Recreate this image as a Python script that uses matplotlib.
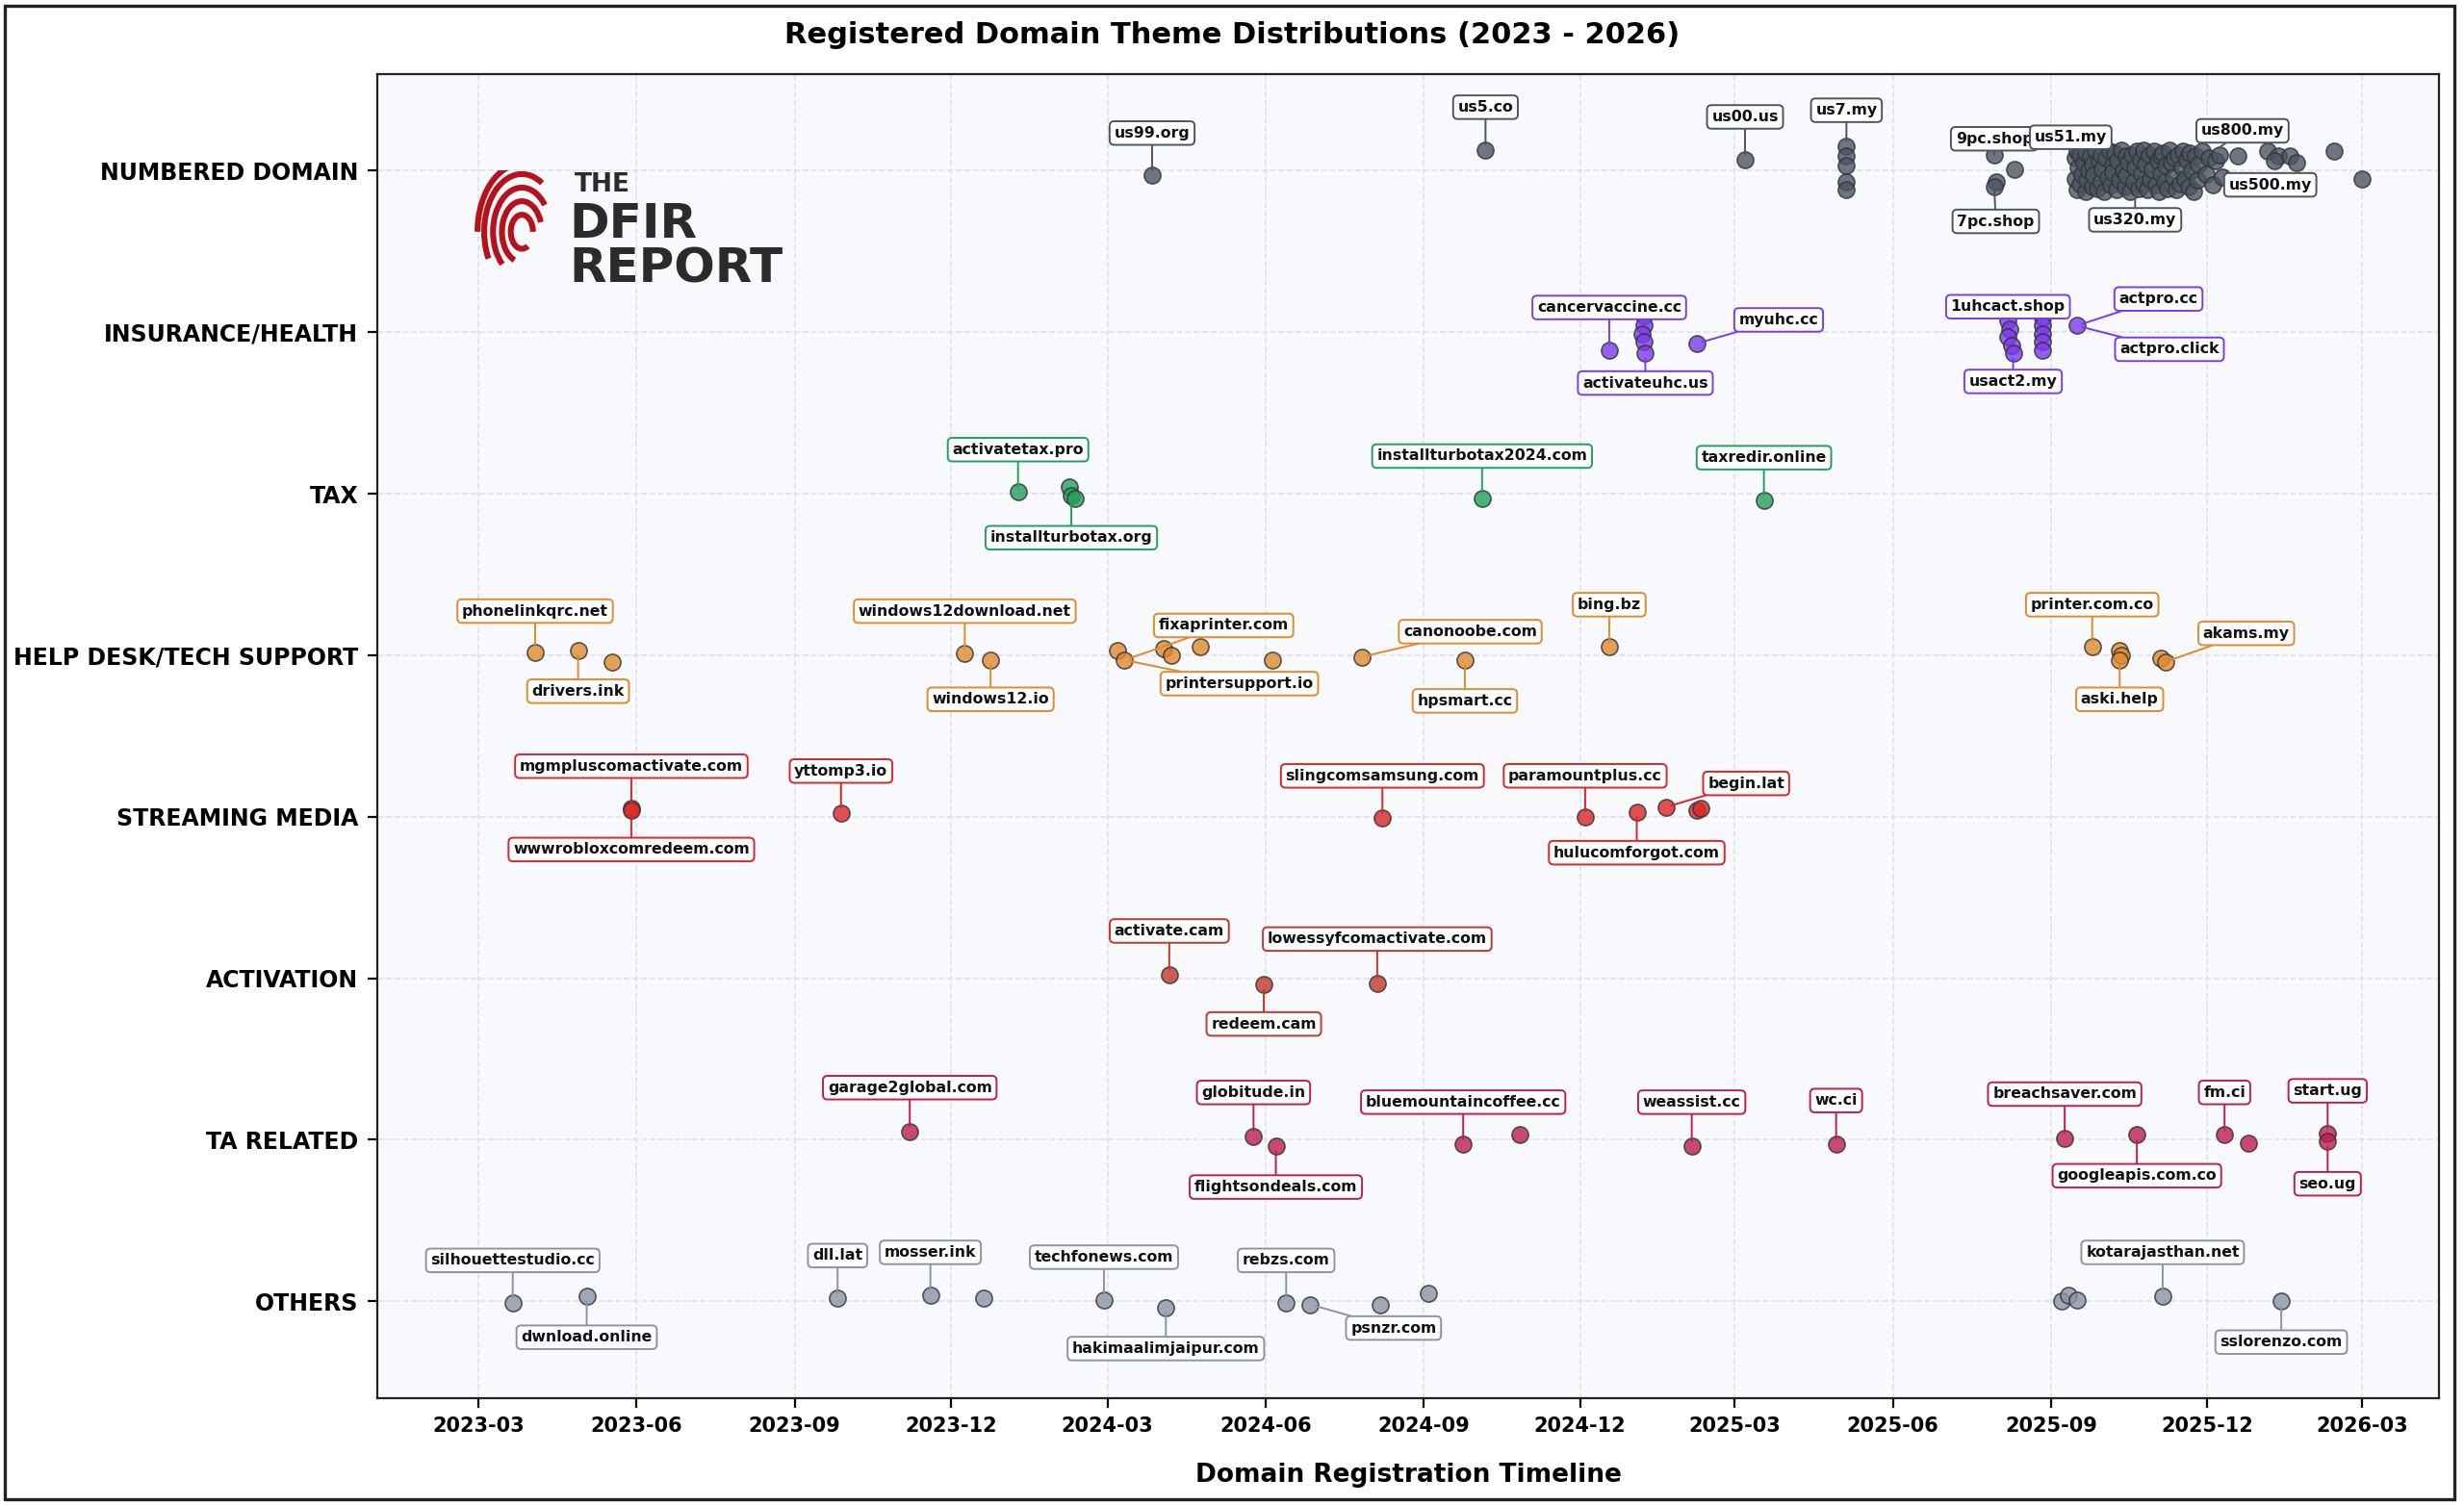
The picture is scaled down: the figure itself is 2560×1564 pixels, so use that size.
import matplotlib
matplotlib.use("Agg")
import matplotlib.pyplot as plt
import numpy as np
import pandas as pd
from matplotlib.patches import Rectangle, Arc

plt.rcParams['font.family'] = ['DejaVu Sans']

categories = ["OTHERS", "TA RELATED", "ACTIVATION", "STREAMING MEDIA",
              "HELP DESK/TECH SUPPORT", "TAX", "INSURANCE/HEALTH", "NUMBERED DOMAIN"]
colors = {"NUMBERED DOMAIN": "#4b5563", "INSURANCE/HEALTH": "#7c3aed", "TAX": "#22a05a",
          "HELP DESK/TECH SUPPORT": "#e08a2e", "STREAMING MEDIA": "#dc2626",
          "ACTIVATION": "#c0392b", "TA RELATED": "#be1e4e", "OTHERS": "#8a94a6"}

# (date, vertical offset within the category lane)
numbered_pts = [("2024-03-27", -0.03), ("2024-10-07", 0.13), ("2025-03-07", 0.07),
                ("2025-05-05", 0.15), ("2025-05-05", 0.09), ("2025-05-05", 0.03),
                ("2025-05-05", -0.07), ("2025-05-05", -0.12),
                ("2025-07-30", 0.10), ("2025-07-31", -0.07), ("2025-07-30", -0.10),
                ("2025-08-11", 0.01),
                ("2025-12-19", 0.09), ("2026-01-05", 0.12), ("2026-01-11", 0.09),
                ("2026-01-18", 0.09), ("2026-01-22", 0.05), ("2026-01-09", 0.06),
                ("2026-02-13", 0.12), ("2026-03-01", -0.05)]
cluster_start = "2025-09-15"
cluster_days = [0, 0, 1, 1, 2, 3, 3, 4, 5, 6,
                6, 7, 8, 9, 10, 10, 11, 12, 13, 14,
                15, 15, 16, 17, 18, 19, 20, 21, 22, 22,
                23, 24, 25, 26, 27, 28, 29, 30, 30, 31,
                32, 33, 34, 35, 36, 37, 38, 39, 40, 40,
                41, 42, 43, 44, 45, 46, 47, 48, 49, 50,
                50, 51, 52, 53, 54, 55, 56, 57, 58, 59,
                60, 61, 62, 63, 64, 65, 66, 67, 68, 69,
                70, 71, 72, 74, 76, 78, 80, 82, 84, 86]
cluster_off = [0.08, -0.05, 0.12, -0.12, 0.02, -0.08, 0.10, -0.02, 0.05, -0.13,
               0.11, -0.06, 0.00, 0.09, -0.10, 0.04, -0.03, 0.13, -0.11, 0.06,
               -0.07, 0.10, 0.01, -0.13, 0.08, -0.04, 0.12, -0.09, 0.03, -0.01,
               0.11, -0.12, 0.06, -0.06, 0.13, 0.00, -0.10, 0.09, -0.03, 0.05,
               -0.13, 0.10, -0.07, 0.02, 0.12, -0.11, 0.07, -0.02, 0.13, -0.08,
               0.04, -0.12, 0.10, -0.05, 0.01, 0.12, -0.09, 0.06, -0.13, 0.09,
               -0.02, 0.11, -0.07, 0.03, -0.11, 0.13, 0.05, -0.04, 0.08, -0.12,
               0.10, -0.08, 0.02, 0.12, -0.05, 0.07, -0.10, 0.11, 0.00, -0.13,
               0.09, -0.06, 0.04, 0.12, -0.02, 0.08, -0.09, 0.06, 0.10, -0.04]

insurance_pts = [("2024-12-18", -0.11), ("2025-01-07", 0.10), ("2025-01-07", 0.04),
                 ("2025-01-06", -0.01), ("2025-01-07", -0.06), ("2025-01-08", -0.13),
                 ("2025-02-07", -0.07),
                 ("2025-08-07", 0.07), ("2025-08-08", 0.02), ("2025-08-07", -0.03),
                 ("2025-08-09", -0.08), ("2025-08-10", -0.13),
                 ("2025-08-27", 0.09), ("2025-08-27", 0.04), ("2025-08-27", -0.01),
                 ("2025-08-27", -0.06), ("2025-08-27", -0.11),
                 ("2025-09-16", 0.04)]
tax_pts = [("2024-01-09", 0.01), ("2024-02-08", 0.04), ("2024-02-09", -0.01),
           ("2024-02-11", -0.03), ("2024-10-05", -0.03), ("2025-03-18", -0.04)]
helpdesk_pts = [("2023-04-03", 0.02), ("2023-04-28", 0.03), ("2023-05-18", -0.04),
                ("2023-12-09", 0.01), ("2023-12-24", -0.03), ("2024-03-07", 0.03),
                ("2024-03-11", -0.03), ("2024-04-03", 0.04), ("2024-04-07", 0.00),
                ("2024-04-24", 0.05), ("2024-06-05", -0.03), ("2024-07-27", -0.01),
                ("2024-09-25", -0.03), ("2024-12-18", 0.05), ("2025-09-25", 0.05),
                ("2025-10-11", 0.03), ("2025-10-12", 0.00), ("2025-10-11", -0.03),
                ("2025-11-04", -0.02), ("2025-11-07", -0.04)]
streaming_pts = [("2023-05-29", 0.05), ("2023-05-29", 0.04), ("2023-09-28", 0.02),
                 ("2024-08-08", -0.01), ("2024-12-04", 0.00), ("2025-01-03", 0.03),
                 ("2025-01-20", 0.06), ("2025-02-07", 0.04), ("2025-02-09", 0.05)]
activation_pts = [("2024-04-06", 0.02), ("2024-05-31", -0.04), ("2024-08-05", -0.03)]
ta_pts = [("2023-11-07", 0.05), ("2024-05-25", 0.02), ("2024-06-07", -0.04),
          ("2024-09-24", -0.03), ("2024-10-27", 0.03), ("2025-02-04", -0.04),
          ("2025-04-29", -0.03), ("2025-09-09", 0.01), ("2025-10-21", 0.03),
          ("2025-12-11", 0.03), ("2025-12-25", -0.02), ("2026-02-09", 0.04),
          ("2026-02-09", -0.01)]
others_pts = [("2023-03-21", -0.01), ("2023-05-03", 0.03), ("2023-09-26", 0.02),
              ("2023-11-19", 0.04), ("2023-12-20", 0.02), ("2024-02-28", 0.01),
              ("2024-04-04", -0.04), ("2024-06-13", -0.01), ("2024-06-27", -0.02),
              ("2024-08-07", -0.02), ("2024-09-04", 0.05), ("2025-09-07", 0.00),
              ("2025-09-11", 0.04), ("2025-09-16", 0.01), ("2025-11-05", 0.03),
              ("2026-01-13", 0.00)]

# labels: (text, category, date, offset, dx, dy) -- dx/dy are label displacement in screen units
labels = [
    ("us99.org", "NUMBERED DOMAIN", "2024-03-27", -0.03, 0, -27),
    ("us5.co", "NUMBERED DOMAIN", "2024-10-07", 0.13, 0, -27),
    ("us00.us", "NUMBERED DOMAIN", "2025-03-07", 0.07, 0, -27),
    ("us7.my", "NUMBERED DOMAIN", "2025-05-05", 0.15, 0, -23),
    ("9pc.shop", "NUMBERED DOMAIN", "2025-07-30", 0.10, 0, -10),
    ("7pc.shop", "NUMBERED DOMAIN", "2025-07-30", -0.10, 1, 22),
    ("us51.my", "NUMBERED DOMAIN", "2025-09-18", 0.09, -6, -12),
    ("us320.my", "NUMBERED DOMAIN", "2025-10-20", -0.11, 0, 20),
    ("us800.my", "NUMBERED DOMAIN", "2025-12-05", 0.12, 18, -13),
    ("us500.my", "NUMBERED DOMAIN", "2025-12-12", -0.01, 28, 8),
    ("cancervaccine.cc", "INSURANCE/HEALTH", "2024-12-18", -0.11, 0, -27),
    ("activateuhc.us", "INSURANCE/HEALTH", "2025-01-08", -0.13, 0, 19),
    ("myuhc.cc", "INSURANCE/HEALTH", "2025-02-07", -0.07, 52, -15),
    ("1uhcact.shop", "INSURANCE/HEALTH", "2025-08-07", 0.07, 0, -9),
    ("usact2.my", "INSURANCE/HEALTH", "2025-08-10", -0.13, 0, 18),
    ("actpro.cc", "INSURANCE/HEALTH", "2025-09-16", 0.04, 52, -17),
    ("actpro.click", "INSURANCE/HEALTH", "2025-09-16", 0.04, 59, 15),
    ("activatetax.pro", "TAX", "2024-01-09", 0.01, 0, -27),
    ("installturbotax.org", "TAX", "2024-02-09", -0.01, 0, 27),
    ("installturbotax2024.com", "TAX", "2024-10-05", -0.03, 0, -27),
    ("taxredir.online", "TAX", "2025-03-18", -0.04, 0, -27),
    ("phonelinkqrc.net", "HELP DESK/TECH SUPPORT", "2023-04-03", 0.02, 0, -26),
    ("drivers.ink", "HELP DESK/TECH SUPPORT", "2023-04-28", 0.03, 0, 26),
    ("windows12download.net", "HELP DESK/TECH SUPPORT", "2023-12-09", 0.01, 0, -27),
    ("windows12.io", "HELP DESK/TECH SUPPORT", "2023-12-24", -0.03, 0, 25),
    ("fixaprinter.com", "HELP DESK/TECH SUPPORT", "2024-03-11", -0.03, 63, -22),
    ("printersupport.io", "HELP DESK/TECH SUPPORT", "2024-03-11", -0.03, 73, 15),
    ("canonoobe.com", "HELP DESK/TECH SUPPORT", "2024-07-27", -0.01, 69, -16),
    ("hpsmart.cc", "HELP DESK/TECH SUPPORT", "2024-09-25", -0.03, 0, 26),
    ("bing.bz", "HELP DESK/TECH SUPPORT", "2024-12-18", 0.05, 0, -27),
    ("printer.com.co", "HELP DESK/TECH SUPPORT", "2025-09-25", 0.05, 0, -27),
    ("aski.help", "HELP DESK/TECH SUPPORT", "2025-10-11", -0.03, 0, 25),
    ("akams.my", "HELP DESK/TECH SUPPORT", "2025-11-07", -0.04, 51, -18),
    ("mgmpluscomactivate.com", "STREAMING MEDIA", "2023-05-29", 0.05, 0, -27),
    ("wwwrobloxcomredeem.com", "STREAMING MEDIA", "2023-05-29", 0.04, 0, 25),
    ("yttomp3.io", "STREAMING MEDIA", "2023-09-28", 0.02, 0, -27),
    ("slingcomsamsung.com", "STREAMING MEDIA", "2024-08-08", -0.01, 0, -27),
    ("paramountplus.cc", "STREAMING MEDIA", "2024-12-04", 0.00, 0, -26),
    ("hulucomforgot.com", "STREAMING MEDIA", "2025-01-03", 0.03, 0, 26),
    ("begin.lat", "STREAMING MEDIA", "2025-01-20", 0.06, 51, -15),
    ("activate.cam", "ACTIVATION", "2024-04-06", 0.02, 0, -28),
    ("redeem.cam", "ACTIVATION", "2024-05-31", -0.04, 0, 25),
    ("lowessyfcomactivate.com", "ACTIVATION", "2024-08-05", -0.03, 0, -28),
    ("garage2global.com", "TA RELATED", "2023-11-07", 0.05, 0, -28),
    ("globitude.in", "TA RELATED", "2024-05-25", 0.02, 0, -28),
    ("flightsondeals.com", "TA RELATED", "2024-06-07", -0.04, 0, 26),
    ("bluemountaincoffee.cc", "TA RELATED", "2024-09-24", -0.03, 0, -27),
    ("weassist.cc", "TA RELATED", "2025-02-04", -0.04, 0, -28),
    ("wc.ci", "TA RELATED", "2025-04-29", -0.03, 0, -28),
    ("breachsaver.com", "TA RELATED", "2025-09-09", 0.01, 0, -28),
    ("googleapis.com.co", "TA RELATED", "2025-10-21", 0.03, 0, 26),
    ("fm.ci", "TA RELATED", "2025-12-11", 0.03, 0, -27),
    ("start.ug", "TA RELATED", "2026-02-09", 0.04, 0, -27),
    ("seo.ug", "TA RELATED", "2026-02-09", -0.01, 0, 27),
    ("silhouettestudio.cc", "OTHERS", "2023-03-21", -0.01, 0, -27),
    ("dwnload.online", "OTHERS", "2023-05-03", 0.03, 0, 26),
    ("dll.lat", "OTHERS", "2023-09-26", 0.02, 0, -27),
    ("mosser.ink", "OTHERS", "2023-11-19", 0.04, 0, -27),
    ("techfonews.com", "OTHERS", "2024-02-28", 0.01, 0, -27),
    ("hakimaalimjaipur.com", "OTHERS", "2024-04-04", -0.04, 0, 26),
    ("rebzs.com", "OTHERS", "2024-06-13", -0.01, 0, -27),
    ("psnzr.com", "OTHERS", "2024-06-27", -0.02, 53, 15),
    ("kotarajasthan.net", "OTHERS", "2025-11-05", 0.03, 0, -28),
    ("sslorenzo.com", "OTHERS", "2026-01-13", 0.00, 0, 26),
]

xtick_dates = ["2023-03", "2023-06", "2023-09", "2023-12", "2024-03", "2024-06",
               "2024-09", "2024-12", "2025-03", "2025-06", "2025-09", "2025-12", "2026-03"]

cluster_pts = [((pd.Timestamp(cluster_start) + pd.Timedelta(days=d)).strftime("%Y-%m-%d"), o)
               for d, o in zip(cluster_days, cluster_off)]
series = {"NUMBERED DOMAIN": numbered_pts + cluster_pts, "INSURANCE/HEALTH": insurance_pts,
          "TAX": tax_pts, "HELP DESK/TECH SUPPORT": helpdesk_pts,
          "STREAMING MEDIA": streaming_pts, "ACTIVATION": activation_pts,
          "TA RELATED": ta_pts, "OTHERS": others_pts}

fig = plt.figure(figsize=(12.8, 7.82), dpi=200)
fig.patch.set_facecolor("white")
ax = fig.add_axes([0.153, 0.071, 0.837, 0.880])
ax.set_facecolor("#f7f9fc")

for cat, pts in series.items():
    yi = categories.index(cat)
    xs = [pd.Timestamp(d) for d, _ in pts]
    ys = [yi + o for _, o in pts]
    ax.scatter(xs, ys, s=38, color=colors[cat], edgecolor="#333333", linewidth=0.6,
               alpha=0.8, zorder=3)

S = 0.588  # screen units -> points
for text, cat, d, o, dx, dy in labels:
    yi = categories.index(cat)
    c = colors[cat]
    ax.annotate(text, xy=(pd.Timestamp(d), yi + o), xytext=(dx * S, -dy * S),
                textcoords="offset points", ha="center", va="center",
                fontsize=5.7, fontweight="bold", color="#111111",
                bbox=dict(boxstyle="round,pad=0.3", fc="white", ec=c, lw=0.7),
                arrowprops=dict(arrowstyle="-", color=c, lw=0.7, shrinkA=0, shrinkB=2),
                zorder=5)

ax.set_yticks(range(len(categories)))
ax.set_yticklabels(categories, fontsize=8.5, fontweight="bold")
ax.set_ylim(-0.6, 7.6)
ax.set_xticks([pd.Timestamp(t + "-01") for t in xtick_dates])
ax.set_xticklabels(xtick_dates, fontsize=7.5, fontweight="bold")
ax.set_xlim(pd.Timestamp("2023-01-01"), pd.Timestamp("2026-04-15"))
ax.grid(True, linestyle="--", color="#dde3ea", linewidth=0.6)
ax.set_axisbelow(True)
for sp in ax.spines.values():
    sp.set_color("#222222"); sp.set_linewidth(0.8)
ax.set_xlabel("Domain Registration Timeline", fontsize=9.5, fontweight="bold", labelpad=10)
fig.suptitle("Registered Domain Theme Distributions (2023 - 2026)", fontsize=11,
             fontweight="bold", y=0.986)

# logo
fig.text(0.233, 0.877, "THE", fontsize=9.5, fontweight="bold", color="#2b2b2b", va="center")
fig.text(0.231, 0.851, "DFIR", fontsize=18, fontweight="bold", color="#2b2b2b", va="center")
fig.text(0.231, 0.821, "REPORT", fontsize=18, fontweight="bold", color="#2b2b2b", va="center")
lax = fig.add_axes([0.192, 0.805, 0.036, 0.082])
lax.set_xlim(-1, 1); lax.set_ylim(-1, 1); lax.axis("off")
for r, t1, t2 in [(0.25, 0, 300), (0.45, 20, 250), (0.65, 40, 230), (0.85, 60, 210), (1.0, 80, 180)]:
    lax.add_patch(Arc((0.1, 0.0), 2 * r, 2 * r * 1.1, theta1=t1, theta2=t2,
                      color="#b5121b", lw=2.2))
fig.patches.append(Rectangle((0.002, 0.004), 0.994, 0.992, transform=fig.transFigure,
                             fill=False, ec="#222222", lw=1.2))
fig.savefig("out.png", dpi=200)
